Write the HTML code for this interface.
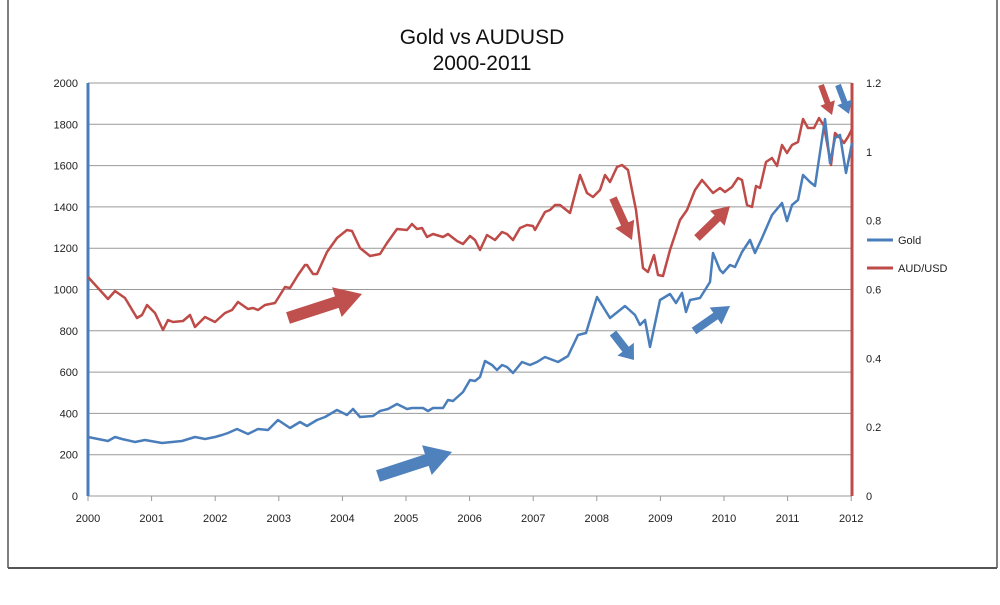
<!DOCTYPE html>
<html><head><meta charset="utf-8"><style>
body{margin:0;background:#fff;width:1000px;height:600px;overflow:hidden}
svg{font-family:"Liberation Sans",sans-serif}
</style></head><body>
<svg id="s" width="1000" height="600" xmlns="http://www.w3.org/2000/svg">
<line x1="8" y1="0" x2="8" y2="568" stroke="#555" stroke-width="1.5"/>
<line x1="997" y1="0" x2="997" y2="568" stroke="#555" stroke-width="1.5"/>
<line x1="8" y1="568" x2="997" y2="568" stroke="#555" stroke-width="2"/>
<text x="482" y="44" font-size="21" text-anchor="middle" fill="#111">Gold vs AUDUSD</text>
<text x="482" y="70" font-size="21" text-anchor="middle" fill="#111">2000-2011</text>
<g id="grid"></g>
<line x1="867" y1="240" x2="893" y2="240" stroke="#4a7ebb" stroke-width="3"/>
<text x="898" y="244" font-size="11" fill="#222">Gold</text>
<line x1="867" y1="268" x2="893" y2="268" stroke="#be4b48" stroke-width="3"/>
<text x="898" y="272" font-size="11" fill="#222">AUD/USD</text>
</svg>
<script>
var g=document.getElementById('grid'),h='';
function X(t){return 88+(t-2000)*63.6}
function AY(a){return 496-a*344.2}
for(var i=0;i<=10;i++){var y=496-i*41.3;
 if(i>0)h+='<line x1="88" y1="'+y+'" x2="852" y2="'+y+'" stroke="#999" stroke-width="1"/>';
 h+='<text x="78" y="'+(y+4)+'" font-size="11" text-anchor="end" fill="#222">'+(i*200)+'</text>';}
h+='<line x1="88" y1="496" x2="852" y2="496" stroke="#999"/>';
for(var i=0;i<=6;i++){var y=AY(i*0.2);h+='<text x="866" y="'+(y+4)+'" font-size="11" fill="#222">'+(i==0?'0':(i*0.2).toFixed(1).replace(/\.0$/,''))+'</text>';}
for(var yr=2000;yr<=2012;yr++){var x=X(yr);h+='<line x1="'+x+'" y1="496" x2="'+x+'" y2="501" stroke="#999"/><text x="'+x+'" y="522" font-size="11" text-anchor="middle" fill="#222">'+yr+'</text>';}
h+='<line x1="88" y1="83" x2="88" y2="496" stroke="#4a7ebb" stroke-width="3"/>';
h+='<line x1="852" y1="83" x2="852" y2="496" stroke="#be4b48" stroke-width="3"/>';
var red="88,277 98,288 108,299 115,291 125,298 137,318 142,315 147,305 155,313 163,330 168,320 173,322 183,321 190,315 195,327 205,317 215,322 225,313 232,310 238,302 248,309 253,308 258,310 265,305 275,303 285,287 290,288 298,275 305,265 307,265 313,274 317,274 327,252 337,238 347,230 352,231 360,248 370,256 380,254 387,243 397,229 407,230 412,224 417,229 422,228 427,237 433,234 443,237 448,234 457,241 463,244 470,236 475,240 480,250 487,235 495,240 502,232 507,234 513,240 520,228 527,225 533,226 535,230 545,212 550,210 555,205 560,205 570,213 580,175 587,193 593,197 600,190 605,175 610,182 617,167 622,165 628,170 636,210 643,268 648,272 654,255 658,275 663,276 670,250 680,220 687,210 695,190 702,180 713,193 720,188 725,192 732,187 738,178 742,180 747,205 752,207 756,186 760,188 766,162 772,158 777,166 782,145 787,153 792,145 798,142 803,119 808,128 814,128 819,118 824,126 831,165 835,133 840,138 844,143 848,137 852,129";
var blue="88,437 98,439 108,441 115,437 122,439 135,442 145,440 162,443 182,441 195,437 205,439 215,437 222,435 228,433 237,429 248,434 258,429 268,430 278,420 290,428 300,422 307,426 317,420 325,417 337,410 347,415 353,409 360,417 373,416 380,411 388,409 397,404 407,409 412,408 423,408 428,411 433,408 443,408 448,400 453,401 463,392 470,380 475,381 480,377 485,361 492,365 497,370 502,365 507,367 513,373 522,362 530,365 537,362 545,357 558,362 568,356 578,335 586,333 597,297 610,318 625,306 635,315 640,325 645,320 650,347 660,300 670,294 676,303 682,293 686,312 690,300 700,298 710,282 713,253 720,270 723,273 730,265 735,267 742,252 750,240 755,253 762,238 772,215 782,203 787,221 792,205 798,200 803,175 810,182 815,186 825,119 830,163 835,138 840,135 846,173 852,143";
h+='<polyline points="'+red+'" fill="none" stroke="#be4b48" stroke-width="2.5" stroke-linejoin="round"/>';
h+='<polyline points="'+blue+'" fill="none" stroke="#4a7ebb" stroke-width="2.5" stroke-linejoin="round"/>';
function arr(x1,y1,x2,y2,w,c){var dx=x2-x1,dy=y2-y1,L=Math.hypot(dx,dy),ux=dx/L,uy=dy/L,nx=-uy,ny=ux,hl=Math.min(L*0.4,w*2.2),hw=w*1.3;
 var bx=x2-ux*hl,by=y2-uy*hl;var P=[[x1+nx*w/2,y1+ny*w/2],[bx+nx*w/2,by+ny*w/2],[bx+nx*hw,by+ny*hw],[x2,y2],[bx-nx*hw,by-ny*hw],[bx-nx*w/2,by-ny*w/2],[x1-nx*w/2,y1-ny*w/2]];
 return '<polygon points="'+P.map(function(q){return q[0].toFixed(1)+','+q[1].toFixed(1)}).join(' ')+'" fill="'+c+'"/>';}
var R='#c0504d',B='#4f81bd';
h+=arr(288,318,362,294,12,R)+arr(378,476,452,452,12,B)+arr(613,198,632,240,8,R)+arr(613,333,634,360,8,B)+arr(697,238,730,206,8,R)+arr(694,331,730,306,8,B)+arr(821,85,832,115,6,R)+arr(838,85,849,114,6,B);
g.innerHTML=h;
</script>
</body></html>
